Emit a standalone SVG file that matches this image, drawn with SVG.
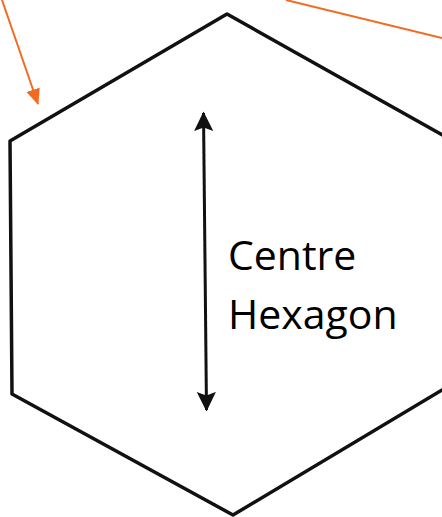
<svg xmlns="http://www.w3.org/2000/svg" width="442" height="517" viewBox="0 0 442 517">
<style>
.hex{fill:none;stroke:#111;stroke-width:3.5;stroke-linejoin:round}
.dim{stroke:#111;stroke-width:3;fill:none}
.orange{stroke:#f26b21;stroke-width:2;fill:none}
.lbl{font-family:"Open Sans","Noto Sans",sans-serif;font-size:41px;fill:#000}
</style>
<defs>
<marker id="ah" markerWidth="7" markerHeight="7" refX="6" refY="3.5" orient="auto-start-reverse" markerUnits="strokeWidth"><path d="M0,0.3 L6.5,3.5 L0,6.7 L1.2,3.5 Z" fill="#111"/></marker>
<marker id="oh" markerWidth="8" markerHeight="8" refX="7.5" refY="4" orient="auto" markerUnits="strokeWidth"><path d="M0,0.5 L8,4 L0,7.5 Z" fill="#f26b21"/></marker>
</defs>
<g id="hexagon">
<polygon class="hex" points="10,141 227,14 462,146 462,378 233,515 12,394"/>
</g>
<g id="label">
<text class="lbl" x="228" y="270">Centre</text>
<text class="lbl" x="228" y="329">Hexagon</text>
</g>
<g id="connectors">
<line class="dim" x1="203.5" y1="113" x2="206.5" y2="410" marker-start="url(#ah)" marker-end="url(#ah)"/>
<line class="orange" x1="2" y1="0" x2="38" y2="104" marker-end="url(#oh)"/>
<line class="orange" x1="286" y1="0" x2="442" y2="38"/>
</g>
</svg>
